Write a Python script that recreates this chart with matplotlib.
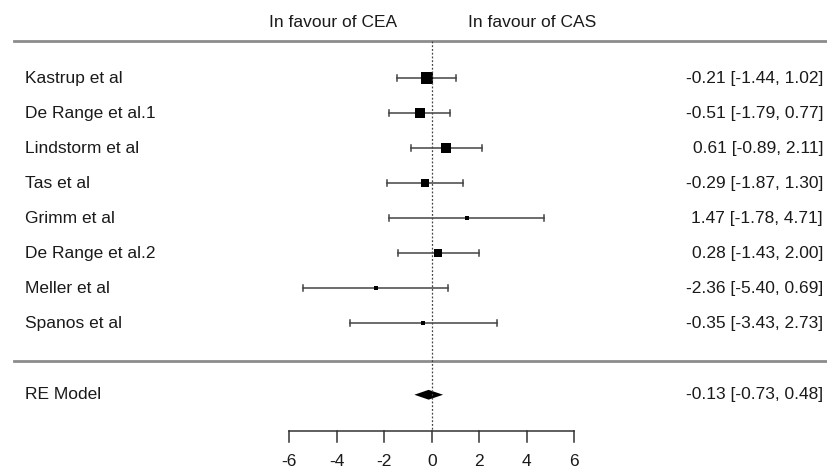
import matplotlib
matplotlib.use("Agg")
import matplotlib.pyplot as plt

plt.rcParams['font.family'] = ['Liberation Sans', 'DejaVu Sans']

studies = ["Kastrup et al", "De Range et al.1", "Lindstorm et al", "Tas et al",
           "Grimm et al", "De Range et al.2", "Meller et al", "Spanos et al"]
est = [-0.21, -0.51, 0.61, -0.29, 1.47, 0.28, -2.36, -0.35]
lower = [-1.44, -1.79, -0.89, -1.87, -1.78, -1.43, -5.40, -3.43]
upper = [1.02, 0.77, 2.11, 1.30, 4.71, 2.00, 0.69, 2.73]

re_est = -0.13
re_lower = -0.73
re_upper = 0.48

xticks = [-6, -4, -2, 0, 2, 4, 6]

fig = plt.figure(figsize=(8.28, 4.68), dpi=100)
ax = fig.add_axes([0, 0, 1, 1])
ax.set_xlim(-18.18, 16.69)
ax.set_ylim(-3.143, 10.229)
ax.axis('off')

k = len(studies)
rows = list(range(k, 0, -1))

# box size from precision (1/SE), like metafor
prec = [3.92 / (u - l) for l, u in zip(lower, upper)]
pmin, pmax = min(prec), max(prec)

fs = 12.5
tc = '#1a1a1a'
for y, name, e, l, u, p in zip(rows, studies, est, lower, upper, prec):
    ax.plot([l, u], [y, y], color='#444444', lw=1.1)
    ax.plot([l, l], [y - 0.09, y + 0.09], color='#444444', lw=1.1)
    ax.plot([u, u], [y - 0.09, y + 0.09], color='#444444', lw=1.1)
    size_px = 3.3 + 8.2 * (p - pmin) / (pmax - pmin)
    ax.plot(e, y, marker='s', color='black', markersize=size_px * 0.72,
            markeredgewidth=0)
    ax.text(-17.12, y, name, ha='left', va='center', fontsize=fs, color=tc)
    ax.text(16.48, y, f"{e:.2f} [{l:.2f}, {u:.2f}]", ha='right',
            va='center', fontsize=fs, color=tc)

# summary diamond
yre = -1.05
ax.fill([re_lower, re_est, re_upper, re_est], [yre, yre + 0.14, yre, yre - 0.14],
        color='black', lw=0)
ax.text(-17.12, yre, "RE Model", ha='left', va='center', fontsize=fs, color=tc)
ax.text(16.48, yre, f"{re_est:.2f} [{re_lower:.2f}, {re_upper:.2f}]",
        ha='right', va='center', fontsize=fs, color=tc)

# horizontal separators
ax.plot([-17.59, 16.69], [9.05, 9.05], color='#8c8c8c', lw=2)
ax.plot([-17.59, 16.69], [-0.08, -0.08], color='#8c8c8c', lw=2)

# reference line at zero
ax.plot([0, 0], [9.05, -2.1], color='#444444', lw=0.9, linestyle=(0, (1.5, 1.5)))

# x axis
yax = -2.1
ax.plot([xticks[0], xticks[-1]], [yax, yax], color='#333333', lw=1.1)
for t in xticks:
    ax.plot([t, t], [yax, yax - 0.3], color='#333333', lw=1.1)
    ax.text(t, yax - 0.86, f"{t}", ha='center', va='center', fontsize=fs,
            color=tc)

ax.text(-4.16, 9.6, "In favour of CEA", ha='center', va='center', fontsize=fs,
        color=tc)
ax.text(4.22, 9.6, "In favour of CAS", ha='center', va='center', fontsize=fs,
        color=tc)

fig.savefig("out.png", dpi=100)
